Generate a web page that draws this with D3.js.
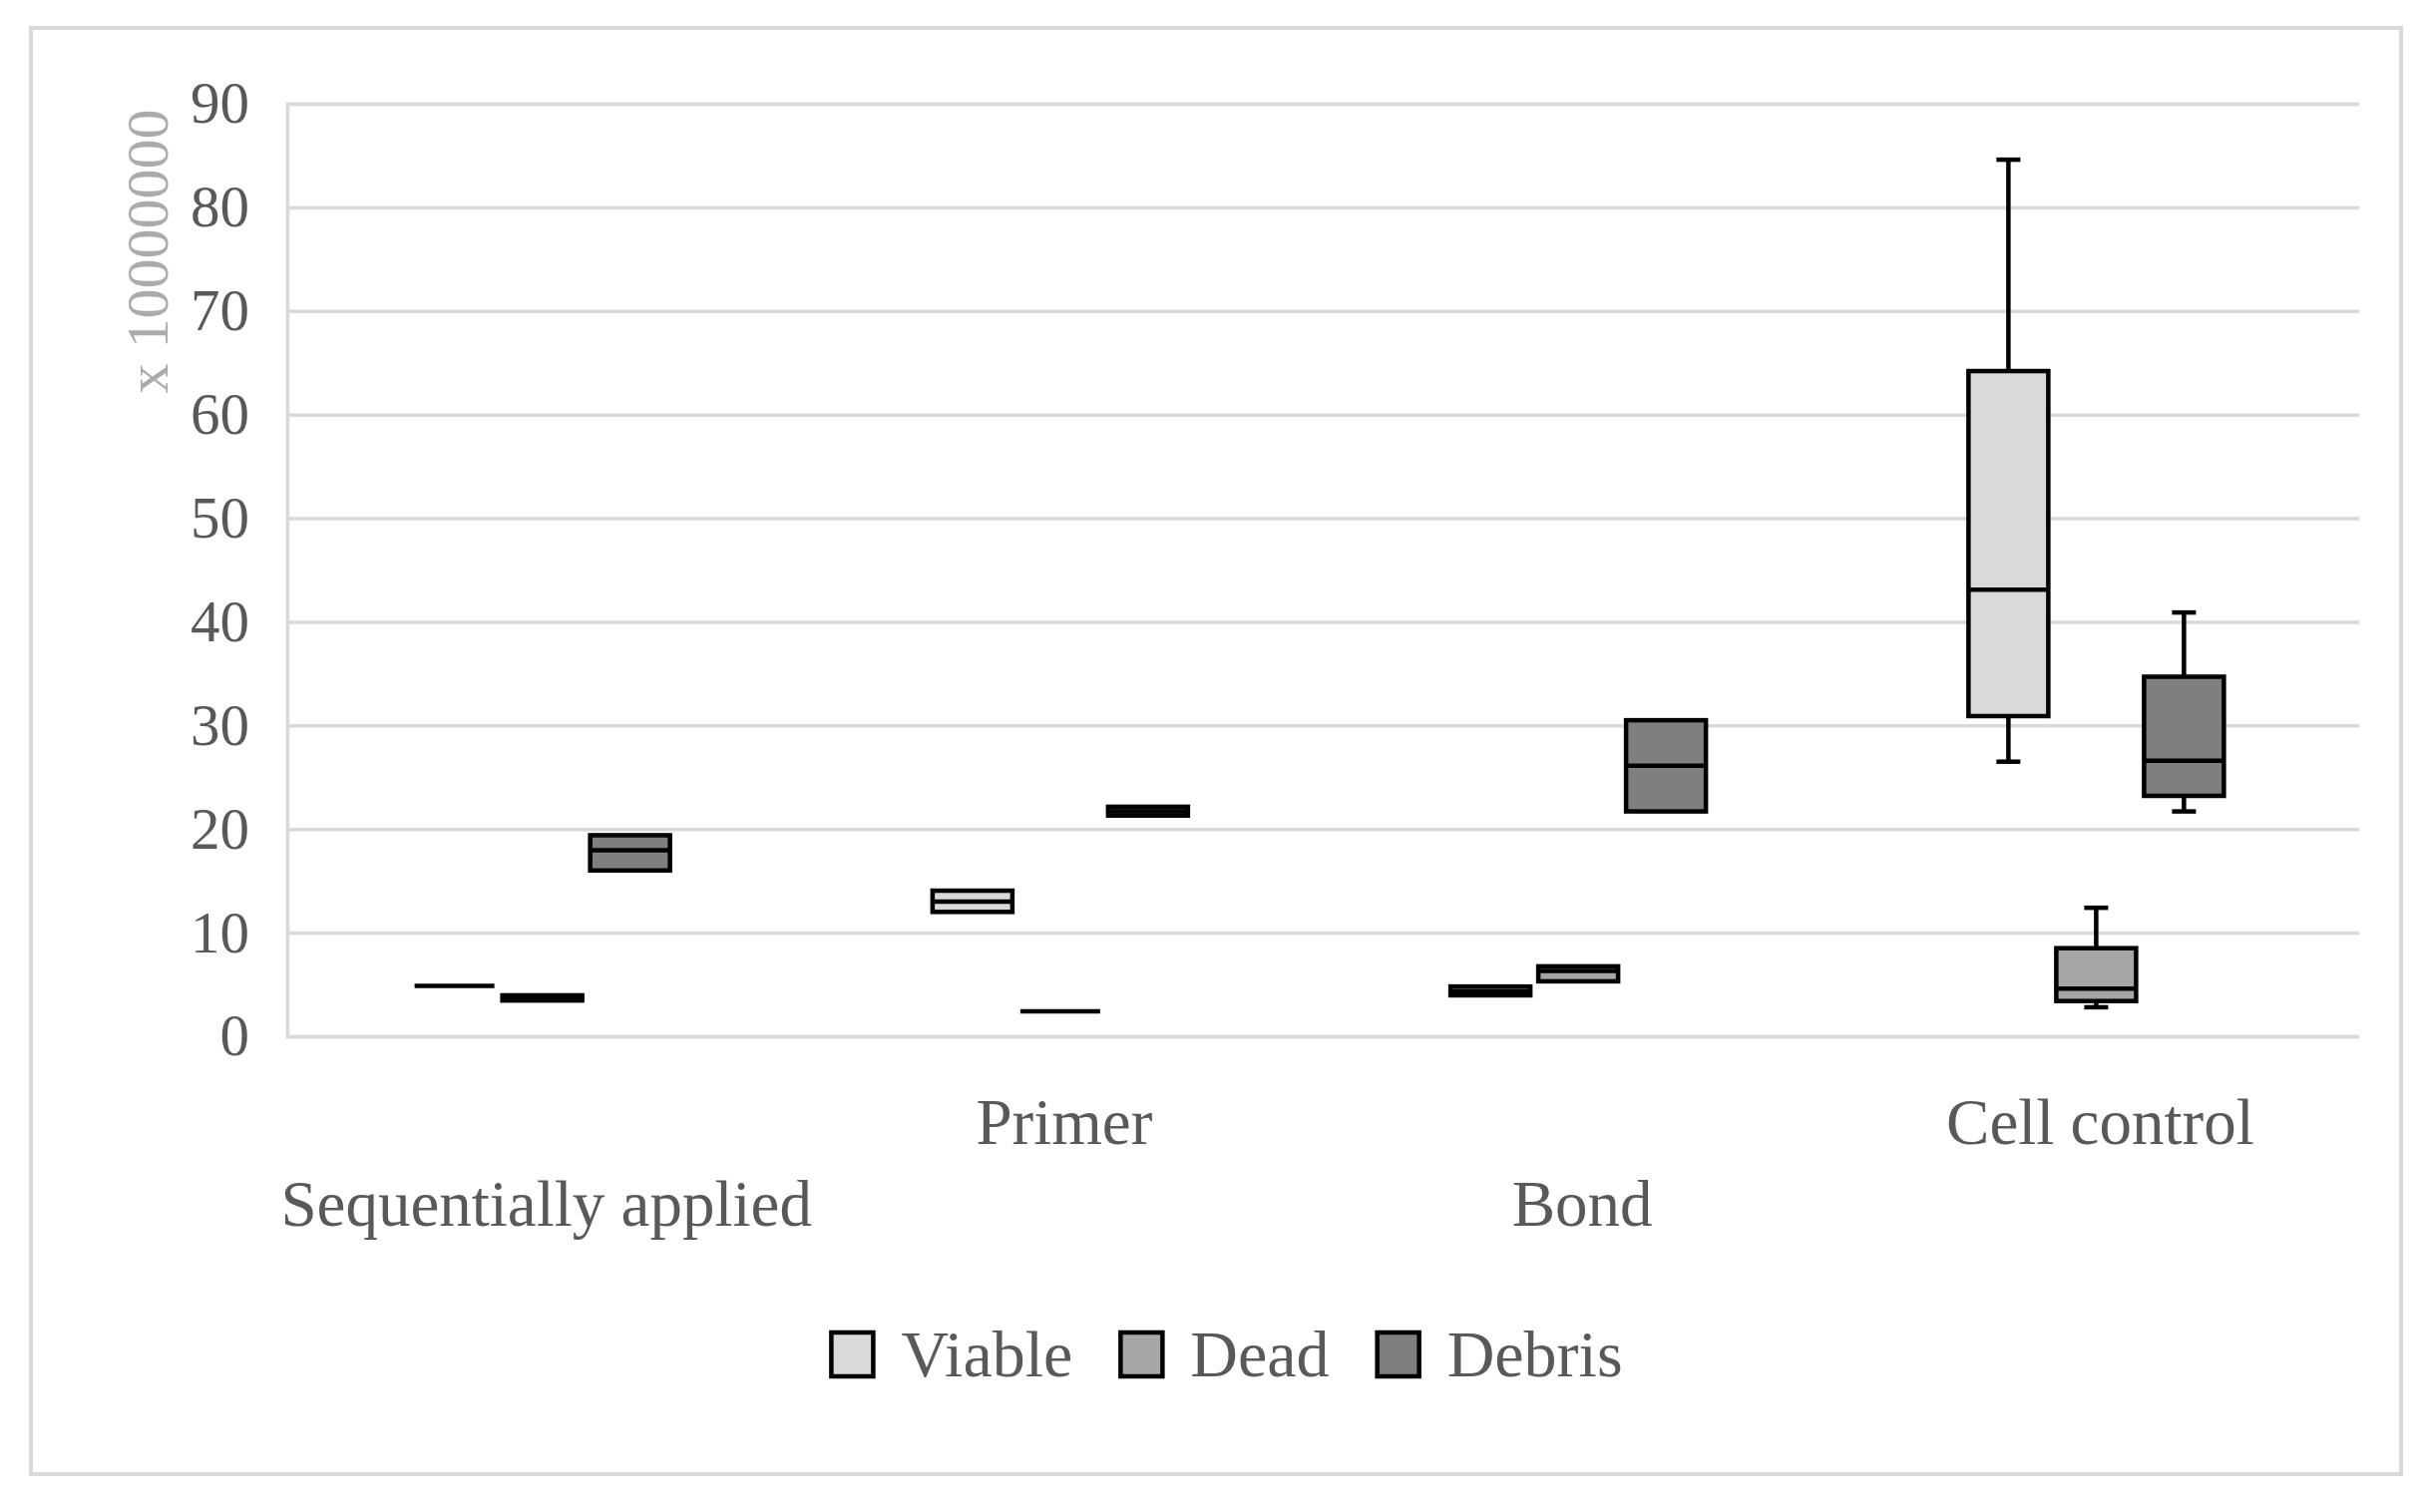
<!DOCTYPE html>
<html>
<head>
<meta charset="utf-8">
<script src="https://cdn.jsdelivr.net/npm/d3@7/dist/d3.min.js"></script>
<style>
  html, body { margin: 0; padding: 0; background: #ffffff; }
  svg { display: block; }
</style>
</head>
<body>
<script>
// ---- data (values in units of 10,000,000) ----
const categories = ["Sequentially applied", "Primer", "Bond", "Cell control"];
const seriesNames = ["Viable", "Dead", "Debris"];
const seriesColors = ["#d9d9d9", "#a6a6a6", "#7f7f7f"];
// each entry: [min, q1, median, q3, max]
const viableStats = [
  [4.85, 4.85, 4.85, 4.85, 4.85],
  [12.0, 12.0, 13.0, 14.05, 14.05],
  [3.95, 3.95, 4.35, 4.8, 4.8],
  [26.5, 30.9, 43.1, 64.2, 84.6]
];
const deadStats = [
  [3.45, 3.45, 3.7, 3.95, 3.95],
  [2.4, 2.4, 2.4, 2.4, 2.4],
  [5.3, 5.3, 6.3, 6.75, 6.75],
  [2.8, 3.4, 4.6, 8.5, 12.4]
];
const debrisStats = [
  [16.0, 16.0, 17.95, 19.4, 19.4],
  [21.3, 21.3, 21.7, 22.15, 22.15],
  [21.7, 21.7, 26.1, 30.5, 30.5],
  [21.7, 23.2, 26.6, 34.7, 40.9]
];
const yTicks = [0, 10, 20, 30, 40, 50, 60, 70, 80, 90];
const yTitle = "x 10000000";

// ---- layout ----
const W = 2427, H = 1516;
const plot = { left: 288, right: 2365, top: 104, bottom: 1039 };
const fontFamily = "'Liberation Serif', 'Times New Roman', serif";
const textColor = "#595959";
const gridColor = "#d9d9d9";

const svg = d3.select("body").append("svg")
  .attr("width", W).attr("height", H)
  .attr("viewBox", `0 0 ${W} ${H}`);

svg.append("rect").attr("width", W).attr("height", H).attr("fill", "#fff");

// outer chart border
svg.append("rect")
  .attr("x", 31).attr("y", 28)
  .attr("width", 2376).attr("height", 1450)
  .attr("fill", "none")
  .attr("stroke", gridColor).attr("stroke-width", 4);

const y = d3.scaleLinear().domain([0, 90]).range([plot.bottom, plot.top]);
const x = d3.scaleBand().domain(categories).range([plot.left, plot.right]).padding(0);
const sx = d3.scaleBand().domain(seriesNames).range([-132, 132]).padding(0);

// gridlines via axis
const gridAxis = d3.axisLeft(y).tickValues(yTicks)
  .tickSize(-(plot.right - plot.left)).tickFormat("");
const gG = svg.append("g").attr("transform", `translate(${plot.left},0)`).call(gridAxis);
gG.selectAll(".tick line").attr("stroke", gridColor).attr("stroke-width", 3.5);
gG.select(".domain").attr("stroke", gridColor).attr("stroke-width", 3.5);

// y tick labels
const yAxis = d3.axisLeft(y).tickValues(yTicks).tickSize(0).tickPadding(38);
const yG = svg.append("g").attr("transform", `translate(${plot.left},0)`).call(yAxis);
yG.select(".domain").remove();
yG.selectAll(".tick text")
  .attr("font-family", fontFamily).attr("font-size", 59)
  .attr("fill", textColor);

// y title (display units)
svg.append("text")
  .attr("transform", `translate(168,252) rotate(-90)`)
  .attr("text-anchor", "middle")
  .attr("font-family", fontFamily).attr("font-size", 60)
  .attr("fill", "#ababab")
  .text(yTitle);

// x category labels (staggered)
const xAxis = d3.axisBottom(x).tickSize(0);
const xG = svg.append("g").attr("transform", `translate(0,${plot.bottom})`).call(xAxis);
xG.select(".domain").remove();
xG.selectAll(".tick text")
  .attr("font-family", fontFamily).attr("font-size", 65)
  .attr("fill", textColor)
  .attr("dy", null)
  .attr("y", (d, i) => i % 2 === 0 ? 190 : 108);

// boxes
const allStats = [viableStats, deadStats, debrisStats];
const boxW = 80, capW = 24, sw = 4.5;

allStats.forEach((stats, si) => {
  const g = svg.append("g");
  stats.forEach((s, ci) => {
    const cx = x(categories[ci]) + x.bandwidth() / 2 + sx(seriesNames[si]) + sx.bandwidth() / 2 - 4;
    const [mn, q1, md, q3, mx] = s;
    // whiskers
    if (mx > q3) {
      g.append("line").attr("x1", cx).attr("x2", cx).attr("y1", y(q3)).attr("y2", y(mx))
        .attr("stroke", "#000").attr("stroke-width", sw);
      g.append("line").attr("x1", cx - capW / 2).attr("x2", cx + capW / 2).attr("y1", y(mx)).attr("y2", y(mx))
        .attr("stroke", "#000").attr("stroke-width", sw);
    }
    if (mn < q1) {
      g.append("line").attr("x1", cx).attr("x2", cx).attr("y1", y(q1)).attr("y2", y(mn))
        .attr("stroke", "#000").attr("stroke-width", sw);
      g.append("line").attr("x1", cx - capW / 2).attr("x2", cx + capW / 2).attr("y1", y(mn)).attr("y2", y(mn))
        .attr("stroke", "#000").attr("stroke-width", sw);
    }
    if (q3 > q1) {
      g.append("rect")
        .attr("x", cx - boxW / 2).attr("y", y(q3))
        .attr("width", boxW).attr("height", y(q1) - y(q3))
        .attr("fill", seriesColors[si])
        .attr("stroke", "#000").attr("stroke-width", sw);
    }
    // median
    g.append("line")
      .attr("x1", cx - boxW / 2).attr("x2", cx + boxW / 2)
      .attr("y1", y(md)).attr("y2", y(md))
      .attr("stroke", "#000").attr("stroke-width", sw);
  });
});

// legend
const legend = svg.append("g");
const items = legend.selectAll("g").data(seriesNames).enter().append("g");
items.append("rect")
  .attr("x", 2).attr("y", -44)
  .attr("width", 42).attr("height", 44)
  .attr("fill", (d, i) => seriesColors[i])
  .attr("stroke", "#000").attr("stroke-width", 4.5);
items.append("text")
  .attr("x", 72).attr("y", 0)
  .attr("font-family", fontFamily).attr("font-size", 66)
  .attr("fill", textColor)
  .text(d => d);
let offset = 0;
const itemGap = 46;
const widths = [];
items.each(function() {
  const t = d3.select(this).select("text").node();
  widths.push(72 + t.getComputedTextLength());
});
const total = d3.sum(widths) + itemGap * (widths.length - 1);
const startX = 1229 - total / 2;
items.attr("transform", (d, i) => {
  const tx = startX + offset;
  offset += widths[i] + itemGap;
  return `translate(${tx},1380)`;
});
</script>
</body>
</html>
